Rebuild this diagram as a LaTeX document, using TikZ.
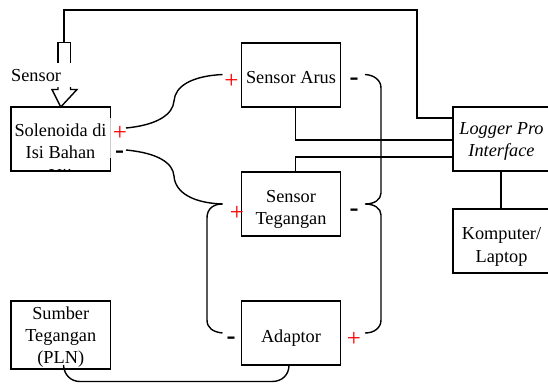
\documentclass[tikz,border=0pt]{standalone}
\usepackage{fontspec}
\setmainfont{Liberation Serif}
\tikzset{
  blok/.style={draw=black,line width=1.4pt,minimum width=99.5pt,minimum height=64pt,inner sep=0pt,outer sep=0pt},
  teks/.style={align=center,font=\fontsize{18.3}{22.4}\selectfont,inner sep=0pt},
  kabel/.style={draw=black,line width=1.4pt},
  plus/.style={text=red,font=\fontsize{25}{25}\selectfont,inner sep=0pt},
  minus/.style={text=black,font=\bfseries\fontsize{27}{27}\selectfont,inner sep=0pt},
}
\begin{document}
\begin{tikzpicture}[x=1pt,y=-1pt]
            \useasboundingbox (0,0) rectangle (548,383);

            \begin{scope}
              \clip (11,107) rectangle (110.5,171);
              \node[teks] (solteks) at (60.5,154.5) {Solenoida di\\Isi Bahan\\Uji};
            \end{scope}
            \node[blok] (sol) at (60.75,139) {};
            \node[blok] (arus) at (291,75) {};
            \node[teks] (arusteks) at (291,78) {Sensor Arus};
            \node[blok] (teg) at (291,204) {};
            \node[teks] (tegteks) at (291,209.5) {Sensor\\Tegangan};
            \node[blok] (adaptor) at (291,333) {};
            \node[teks] (adaptorteks) at (291,338) {Adaptor};
            \node[blok,minimum height=68pt] (pln) at (60.75,335) {};
            \node[teks] (plnteks) at (60.75,337) {Sumber\\Tegangan\\(PLN)};
            \node[blok,minimum width=100pt] (logger) at (503,139) {};
            \node[teks,font=\itshape\fontsize{18.3}{22.4}\selectfont] (loggerteks) at (501.5,141.5) {Logger Pro\\Interface};
            \node[blok,minimum width=100pt] (komputer) at (503,241) {};
            \node[teks] (komputerteks) at (501.5,247) {Komputer/\\Laptop};

            % gap in the solenoid box
            \draw[white,line width=1.8pt] (110.5,118) -- (110.5,158);
            \draw[black!20,line width=0.4pt] (109.8,118) -- (109.8,158);

            % sensor probe
            \node[teks,anchor=west] (sensor) at (11,76) {Sensor};
            \coordinate (tip) at (sol.north);
            \draw[kabel] (58,63) -- (58,42.5) -- (70.5,42.5) -- (70.5,63);
            \draw[kabel,line join=miter] (58,87) -- (58,89.5) -- (52,89.5) -- (tip) -- (77,89.5) -- (70.5,89.5) -- (70.5,87);

            % wires to the logger
            \coordinate (p1) at (64,42.5);
            \coordinate (p2) at (453,118);
            \draw[kabel] (p1) |- (417,10) |- (p2);
            \coordinate (p3) at (295.5,107);
            \coordinate (p4) at (453,140);
            \draw[kabel] (p3) |- (p4);
            \coordinate (p5) at (295.5,172);
            \coordinate (p6) at (453,157);
            \draw[kabel] (p5) |- (p6);
            \draw[kabel] (501,171) -- (501,209);

            % curved wires
            \coordinate (s1) at (126,128);
            \coordinate (s2) at (222.5,74.5);
            \coordinate (s3) at (126,150);
            \coordinate (s4) at (222.5,204);
            \coordinate (s5) at (222.5,333);
            \draw[kabel] (s1) .. controls (158,125) and (173,114) .. (174,101) .. controls (175,86) and (192,76) .. (s2);
            \draw[kabel] (s3) .. controls (158,153) and (173,163) .. (174,176) .. controls (175,192) and (192,203) .. (s4);
            \draw[kabel] (s4) .. controls (213,204) and (207,209) .. (207,218) -- (207,320) .. controls (207,328) and (213,332) .. (s5);
            \coordinate (r1) at (365,74.5);
            \coordinate (r2) at (365,204);
            \coordinate (r3) at (365,333);
            \draw[kabel] (r1) .. controls (374,75) and (381,80) .. (381,88) -- (381,193) .. controls (381,200) and (374,204) .. (r2) .. controls (374,204) and (381,208) .. (381,215) -- (381,320) .. controls (381,328) and (374,333) .. (r3);
            \coordinate (q1) at (63.5,365);
            \coordinate (q2) at (289,365);
            \draw[kabel] (q1) .. controls (64,375) and (71,381.5) .. (80,381.5) -- (272,381.5) .. controls (282,381.5) and (289,375) .. (q2);

            % polarity marks
            \node[plus] (pa) at (120,133) {+};
            \node[minus] (ma) at (119.5,155) {-};
            \node[plus] (pb) at (231.5,81) {+};
            \node[minus] (mb) at (354,82) {-};
            \node[plus] (pc) at (237,213) {+};
            \node[minus] (mc) at (354,213) {-};
            \node[minus] (md) at (231,340.5) {-};
            \node[plus] (pd) at (354,339) {+};
        \end{tikzpicture}
\end{document}
